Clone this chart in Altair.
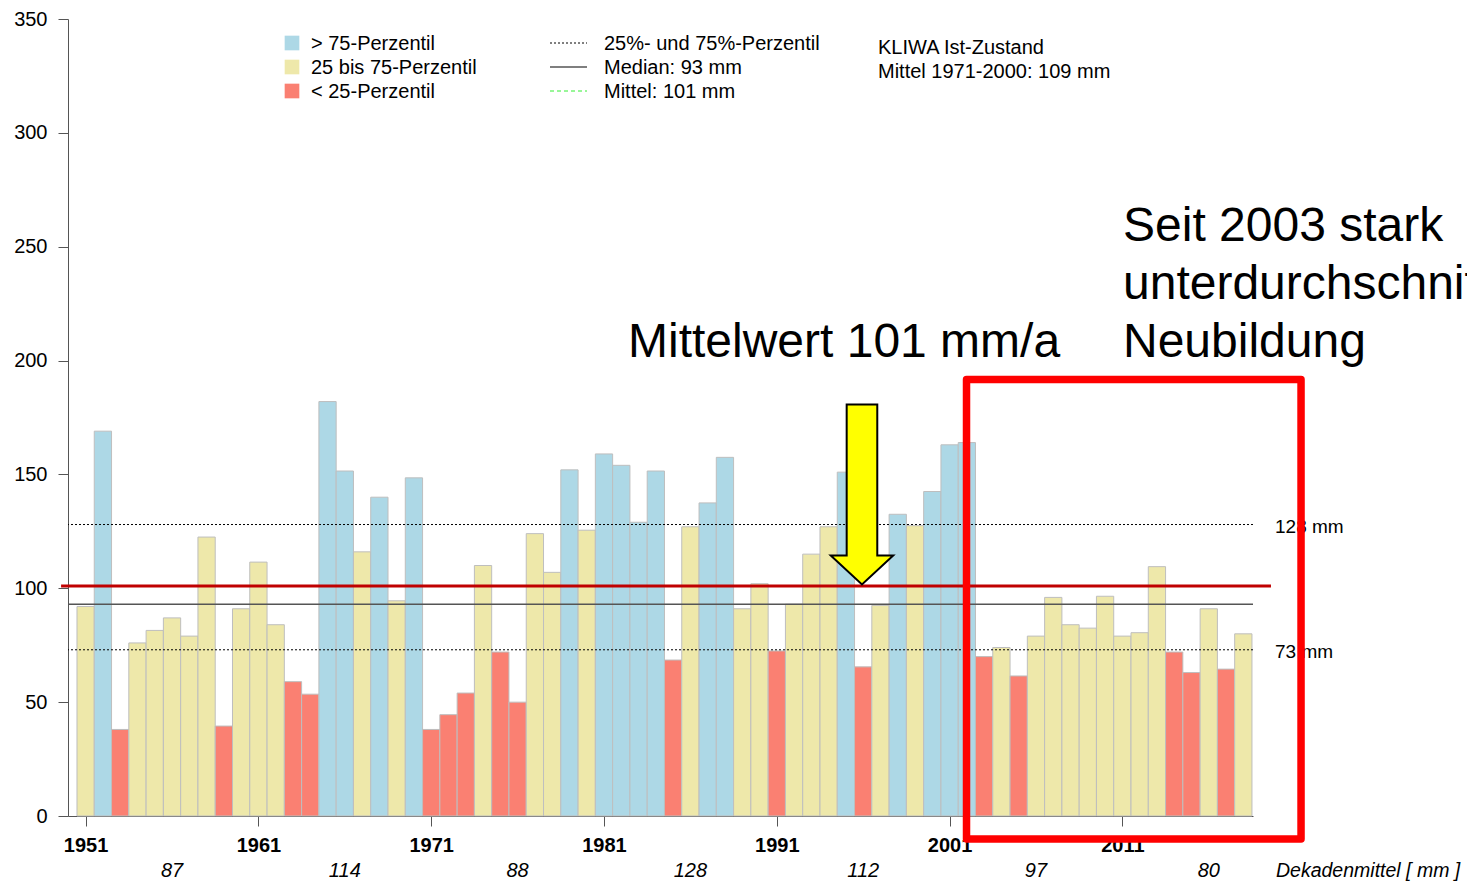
import altair as alt
import pandas as pd

# ---------------- data ----------------
years = list(range(1951, 2019))
values = [92, 169, 38, 76, 81.5, 87, 79, 122.5, 39.5, 91,
          111.5, 84, 59, 53.5, 182, 151.5, 116, 140, 94.5, 148.5,
          38, 44.5, 54, 110, 72, 50, 124, 107, 152, 125.5,
          159, 154, 129, 151.5, 68.5, 127, 137.5, 157.5, 91, 102,
          72.5, 93, 115, 127, 151, 65.5, 92.5, 132.5, 127.5, 142.5,
          163, 164, 70, 74, 61.5, 79, 96, 84, 82.5, 96.5,
          79, 80.5, 109.5, 72, 63, 91, 64.5, 80]
# H = > 75-Perzentil, M = 25 bis 75-Perzentil, L = < 25-Perzentil
classes = ["M", "H", "L", "M", "M", "M", "M", "M", "L", "M",
           "M", "M", "L", "L", "H", "H", "M", "H", "M", "H",
           "L", "L", "L", "M", "L", "L", "M", "M", "H", "M",
           "H", "H", "H", "H", "L", "M", "H", "H", "M", "M",
           "L", "M", "M", "M", "H", "L", "M", "H", "M", "H",
           "H", "H", "L", "M", "L", "M", "M", "M", "M", "M",
           "M", "M", "M", "L", "L", "M", "L", "M"]
class_names = {"H": "> 75-Perzentil", "M": "25 bis 75-Perzentil", "L": "< 25-Perzentil"}
cat_labels = ["> 75-Perzentil", "25 bis 75-Perzentil", "< 25-Perzentil"]
cat_colors = ["#ADD8E6", "#EEE8AA", "#FA8072"]

p25, p75, median, mean = 73, 128, 93, 101

decade_years = [1956, 1966, 1976, 1986, 1996, 2006, 2016]
decade_means = [87, 114, 88, 128, 112, 97, 80]

year_ticks = [1951, 1961, 1971, 1981, 1991, 2001, 2011]
y_ticks = [0, 50, 100, 150, 200, 250, 300, 350]

df = pd.DataFrame({"year": years, "value": values,
                   "cls": [class_names[c] for c in classes]})
dec_df = pd.DataFrame({"year": decade_years, "m": [str(v) for v in decade_means]})
one = pd.DataFrame({"a": [0]})

FONT = "Liberation Sans"
AX = "#555555"

x_scale = alt.Scale(domain=[1949.98, 2018.56], nice=False, zero=False)
y_scale = alt.Scale(domain=[0, 350], nice=False, zero=False)

x_axis = alt.Axis(values=year_ticks, format="d", title=None, grid=False,
                  labelFontSize=20, labelFontWeight="bold", labelColor="black",
                  labelFont=FONT, tickSize=10, tickColor=AX, domainColor=AX,
                  labelPadding=9, labelFlush=False, labelOverlap=False)
y_axis = alt.Axis(values=y_ticks, title=None, grid=False, labelFontSize=20,
                  labelColor="black", labelFont=FONT, tickSize=10, tickColor=AX,
                  domainColor=AX, labelPadding=11)


def XD(v):
    return alt.XDatum(v, scale=x_scale, axis=x_axis, title=None)


def YD(v):
    return alt.YDatum(v, scale=y_scale, axis=y_axis, title=None)


bars = alt.Chart(df).transform_calculate(
    x0="datum.year - 0.5", x1="datum.year + 0.5", y0="0"
).mark_rect(stroke="#BEBEBE", strokeWidth=1).encode(
    x=alt.X("x0:Q", scale=x_scale, axis=x_axis, title=None),
    x2="x1:Q",
    y=alt.Y("value:Q", scale=y_scale, axis=y_axis, title=None),
    y2="y0:Q",
    color=alt.Color("cls:N", scale=alt.Scale(domain=cat_labels, range=cat_colors), legend=None),
)


def hline(val, **kw):
    return alt.Chart(one).mark_rule(**kw).encode(y=YD(val))


rule75 = hline(p75, color="black", strokeWidth=1, strokeDash=[2, 2])
rule25 = hline(p25, color="black", strokeWidth=1, strokeDash=[2, 2])
rule_med = hline(median, color=AX, strokeWidth=1.5)
rule_mean = alt.Chart(one).mark_rule(color="#C00000", strokeWidth=3).encode(
    x=XD(1949.58), x2=alt.X2Datum(2019.6), y=YD(mean))

arrow_path = ("M-0.17,-1 L0.17,-1 L0.17,0.678 L0.347,0.678 L0,1 "
              "L-0.347,0.678 L-0.17,0.678 Z")
arrow = alt.Chart(one).mark_point(shape=arrow_path, size=32400, filled=True,
                                  fill="#FFFF00", stroke="black", strokeWidth=2,
                                  opacity=1, fillOpacity=1, strokeOpacity=1).encode(
    x=XD(1995.93), y=YD(141.2))

box = alt.Chart(one).mark_rect(fillOpacity=0, fill="white", stroke="#FF0000",
                               strokeWidth=7.5, strokeJoin="round").encode(
    x=XD(2001.98), x2=alt.X2Datum(2021.34), y=YD(191.7), y2=alt.Y2Datum(-10.1))


def txt(s, x, y, size=20, **kw):
    return alt.Chart(one).mark_text(text=s, fontSize=size, font=FONT, align="left",
                                    baseline=kw.pop("baseline", "middle"),
                                    color="black", **kw).encode(
        x=alt.value(x), y=alt.value(y))


layers = [bars, rule75, rule25, rule_med, rule_mean]

# custom legend (pixel layout)
for i, (lab, col) in enumerate(zip(cat_labels, cat_colors)):
    layers.append(alt.Chart(one).mark_square(size=215, color=col, opacity=1).encode(
        x=alt.value(224), y=alt.value(24 + 24 * i)))
    layers.append(txt(lab, 243, 25 + 24 * i))

line_styles = [dict(color="black", strokeWidth=1, strokeDash=[2, 2]),
               dict(color=AX, strokeWidth=1.5),
               dict(color="#33EE33", strokeWidth=1, strokeDash=[4, 3])]
line_labels = ["25%- und 75%-Perzentil", "Median: 93 mm", "Mittel: 101 mm"]
for i, (st, lab) in enumerate(zip(line_styles, line_labels)):
    layers.append(alt.Chart(one).mark_rule(**st).encode(
        x=alt.value(482), x2=alt.value(519), y=alt.value(24 + 24 * i)))
    layers.append(txt(lab, 536, 25 + 24 * i))

layers.append(txt("KLIWA Ist-Zustand", 810, 29))
layers.append(txt("Mittel 1971-2000: 109 mm", 810, 53))

# percentile labels at right
for val, lab in [(p75, "128 mm"), (p25, "73 mm")]:
    layers.append(alt.Chart(one).mark_text(text=lab, fontSize=19, font=FONT, align="left",
                                           baseline="middle", dy=2, color="black").encode(
        x=alt.value(1207), y=YD(val)))

# decade means
layers.append(alt.Chart(dec_df).mark_text(fontSize=20, font=FONT, fontStyle="italic",
                                          baseline="alphabetic", color="black").encode(
    x=alt.X("year:Q", scale=x_scale, axis=x_axis, title=None), y=alt.value(858), text="m:N"))
layers.append(txt("Dekadenmittel [ mm ]", 1208, 858, size=19.5, fontStyle="italic",
                  baseline="alphabetic"))

# big annotations
layers.append(txt("Mittelwert 101 mm/a", 560, 338, size=48, baseline="alphabetic"))
for i, line in enumerate(["Seit 2003 stark", "unterdurchschnittliche", "Neubildung"]):
    layers.append(txt(line, 1055, 222 + 58 * i, size=48, baseline="alphabetic"))

layers += [arrow, box]

chart = alt.layer(*layers).properties(
    width=1185, height=797,
    padding={"left": 60, "top": 11, "right": 214, "bottom": 66},
    autosize="none", background="white",
).configure(font=FONT).configure_view(stroke=None)

chart.save("out.html", embed_options={"renderer": "svg", "actions": False})
